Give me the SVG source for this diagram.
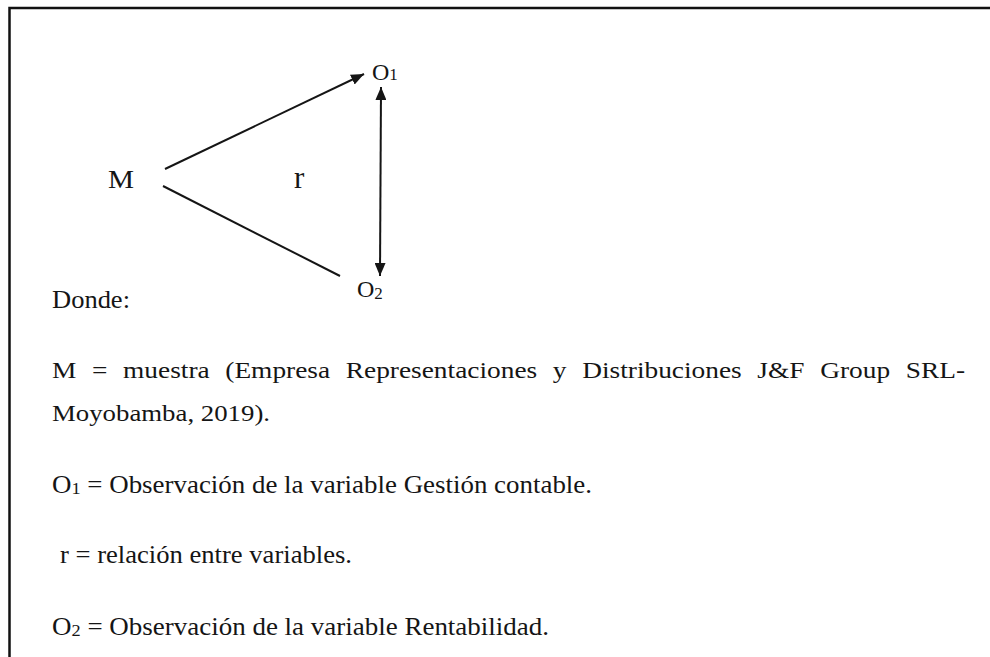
<svg xmlns="http://www.w3.org/2000/svg" width="990" height="657" viewBox="0 0 990 657">
<style>
  .t { font-family: "Liberation Serif", "Times New Roman", serif; fill: #151515; }
  .ln { stroke: #151515; stroke-width: 2; fill: none; }
</style>
<defs>
  <marker id="ah" markerUnits="userSpaceOnUse" markerWidth="13" markerHeight="11" refX="13" refY="5.5" orient="auto-start-reverse" viewBox="0 0 13 11">
    <path d="M0,0 L13,5.5 L0,11 z" fill="#151515"/>
  </marker>
</defs>
<rect width="990" height="657" fill="#ffffff"/>
<path d="M9.5,657 V8 H990" stroke="#111" stroke-width="2.5" fill="none"/>

<g id="connectors">
  <line class="ln" x1="165" y1="169" x2="364" y2="74" marker-end="url(#ah)"/>
  <line class="ln" x1="163" y1="186" x2="340" y2="276"/>
  <line class="ln" x1="381" y1="87" x2="380" y2="276" marker-start="url(#ah)" marker-end="url(#ah)"/>
</g>

<g id="node-M"><text class="t" x="108" y="188" font-size="25" textLength="26" lengthAdjust="spacingAndGlyphs">M</text></g>
<g id="label-r"><text class="t" x="294" y="188" font-size="31">r</text></g>
<g id="node-O1"><text class="t" x="372" y="80" font-size="24">O<tspan font-size="17" dy="0">1</tspan></text></g>
<g id="node-O2"><text class="t" x="357" y="297" font-size="24">O<tspan font-size="17" dy="2">2</tspan></text></g>

<g id="legend">
  <text class="t" x="52" y="308" font-size="26" textLength="78" lengthAdjust="spacingAndGlyphs">Donde:</text>
  <text class="t" x="52" y="378" font-size="23" word-spacing="7.4" textLength="913" lengthAdjust="spacingAndGlyphs">M = muestra (Empresa Representaciones y Distribuciones J&amp;F Group SRL-</text>
  <text class="t" x="52" y="421" font-size="23" textLength="218" lengthAdjust="spacingAndGlyphs">Moyobamba, 2019).</text>
  <text class="t" x="52" y="493" font-size="25" textLength="540" lengthAdjust="spacingAndGlyphs">O<tspan font-size="17" dy="1">1</tspan><tspan dy="-1"> = Observación de la variable Gestión contable.</tspan></text>
  <text class="t" x="60" y="563" font-size="25" textLength="292" lengthAdjust="spacingAndGlyphs">r = relación entre variables.</text>
  <text class="t" x="52" y="635" font-size="25" textLength="497" lengthAdjust="spacingAndGlyphs">O<tspan font-size="17" dy="1">2</tspan><tspan dy="-1"> = Observación de la variable Rentabilidad.</tspan></text>
</g>
</svg>
